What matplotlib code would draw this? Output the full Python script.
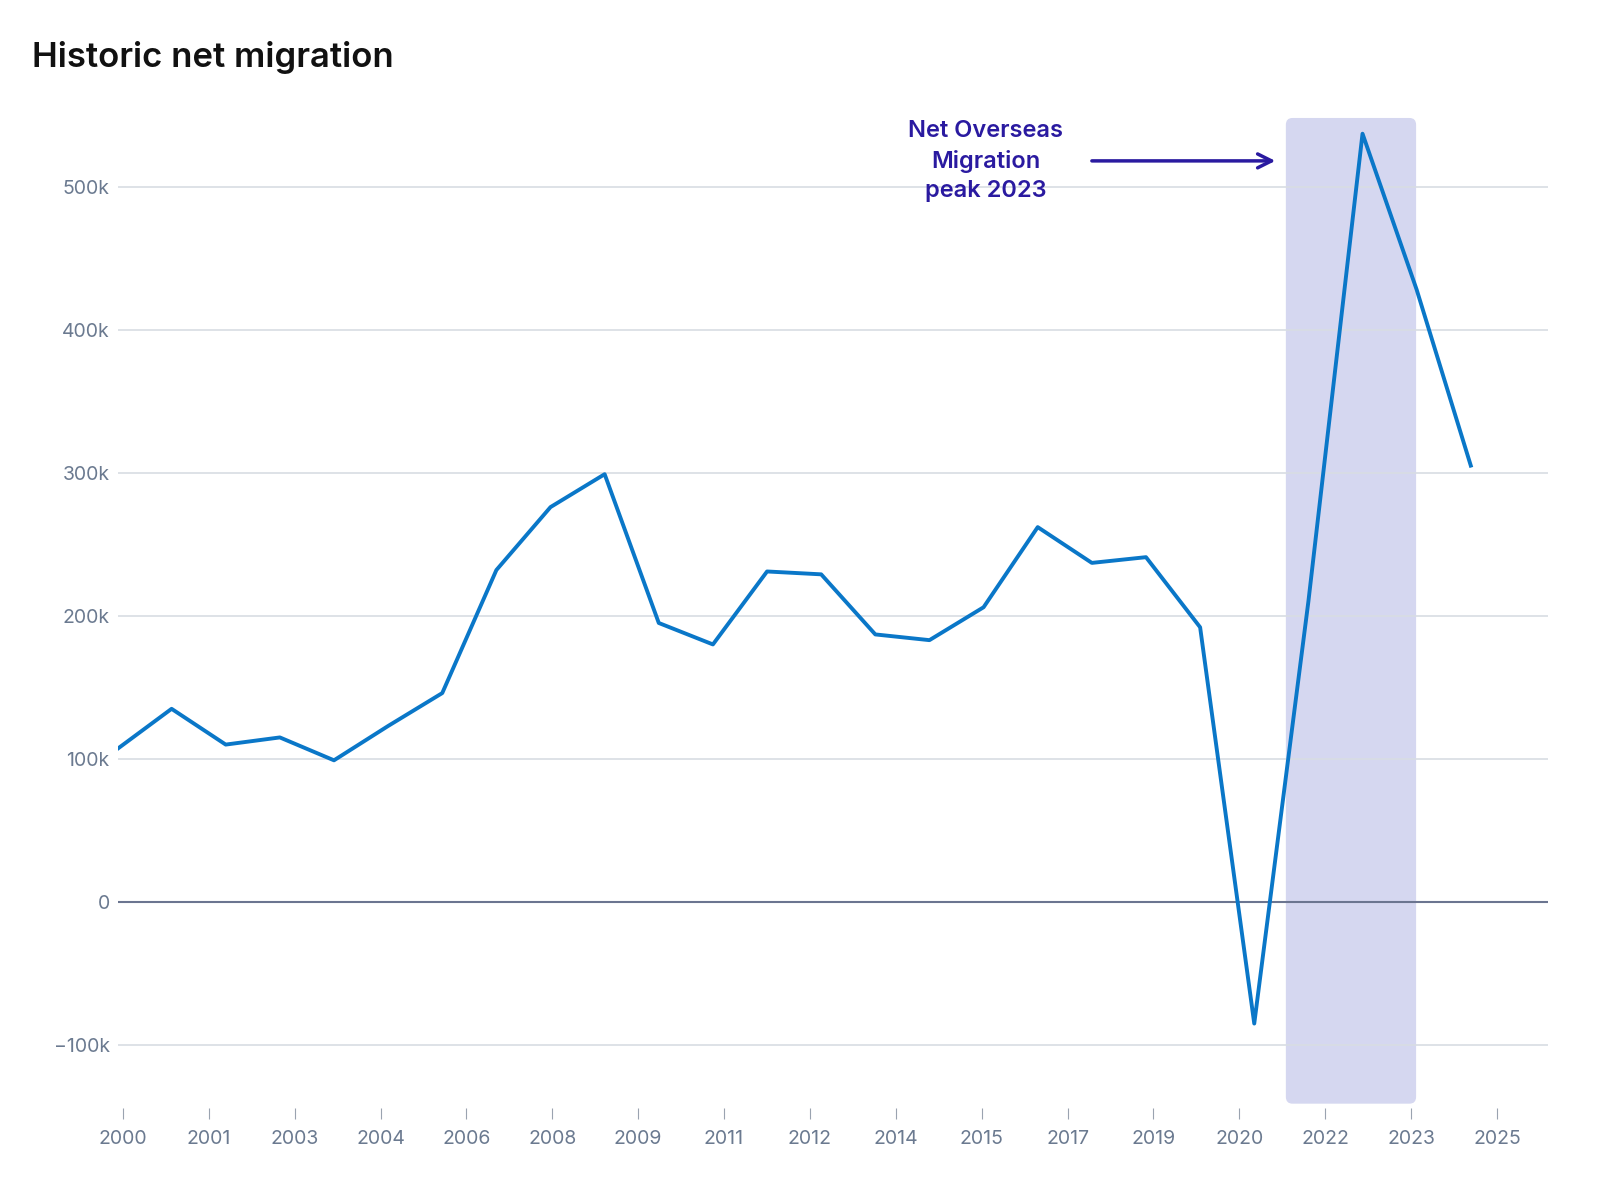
import matplotlib.pyplot as plt
from matplotlib.patches import FancyBboxPatch
import numpy as np

plt.rcParams['font.family'] = ['Inter', 'DejaVu Sans']

# net migration by year (thousands)
values = [107, 135, 110, 115, 99, 123, 146, 232, 276, 299, 195, 180, 231, 229,
          187, 183, 206, 262, 237, 241, 192, -85, 210, 537, 428, 305]
years = 1999.9 + 0.985 * np.arange(len(values))
tick_pos = 2000 + 25 / 16 * np.arange(17)
tick_labels = ['2000', '2001', '2003', '2004', '2006', '2008', '2009', '2011', '2012',
               '2014', '2015', '2017', '2019', '2020', '2022', '2023', '2025']
yticks = [-100, 0, 100, 200, 300, 400, 500]
ylabels = ['−100k', '0', '100k', '200k', '300k', '400k', '500k']

fig = plt.figure(figsize=(16, 12), dpi=100)
ax = fig.add_axes([0.07375, 0.0767, 0.89375, 0.8393])
ax.set_xlim(1999.91, 2025.93)
ax.set_ylim(-144, 560)

for y in yticks:
    ax.axhline(y, color='#6b7590' if y == 0 else '#d8dde3', lw=1.5 if y == 0 else 1.2, zorder=1)

ax.add_patch(FancyBboxPatch((2021.16, -141), 2023.53 - 2021.16, 689,
                            boxstyle='round,pad=0,rounding_size=0.12',
                            mutation_aspect=40, fc='#d5d7f0', ec='none', zorder=0))

ax.plot(years, values, color='#0a77c8', lw=2.8, zorder=3)

ax.set_yticks(yticks)
ax.set_yticklabels(ylabels)
ax.set_xticks(tick_pos)
ax.set_xticklabels(tick_labels)
ax.tick_params(axis='y', length=0, pad=6, labelsize=14, labelcolor='#6b7a90')
ax.tick_params(axis='x', length=8, color='#9aa3b0', pad=8, labelsize=14, labelcolor='#6b7a90')
for s in ax.spines.values():
    s.set_visible(False)

ax.annotate('', xy=(2021.02, 518), xytext=(2017.58, 518),
            arrowprops=dict(arrowstyle='->', color='#2a1aa0', lw=2.5, mutation_scale=25))
ax.text(2015.7, 518, 'Net Overseas\nMigration\npeak 2023', ha='center', va='center',
        fontsize=17, fontweight='semibold', color='#2a1aa0', linespacing=1.45)

fig.text(0.02, 0.952, 'Historic net migration', fontsize=25, fontweight='semibold',
         color='#111111', va='center')

fig.savefig('out.png')
